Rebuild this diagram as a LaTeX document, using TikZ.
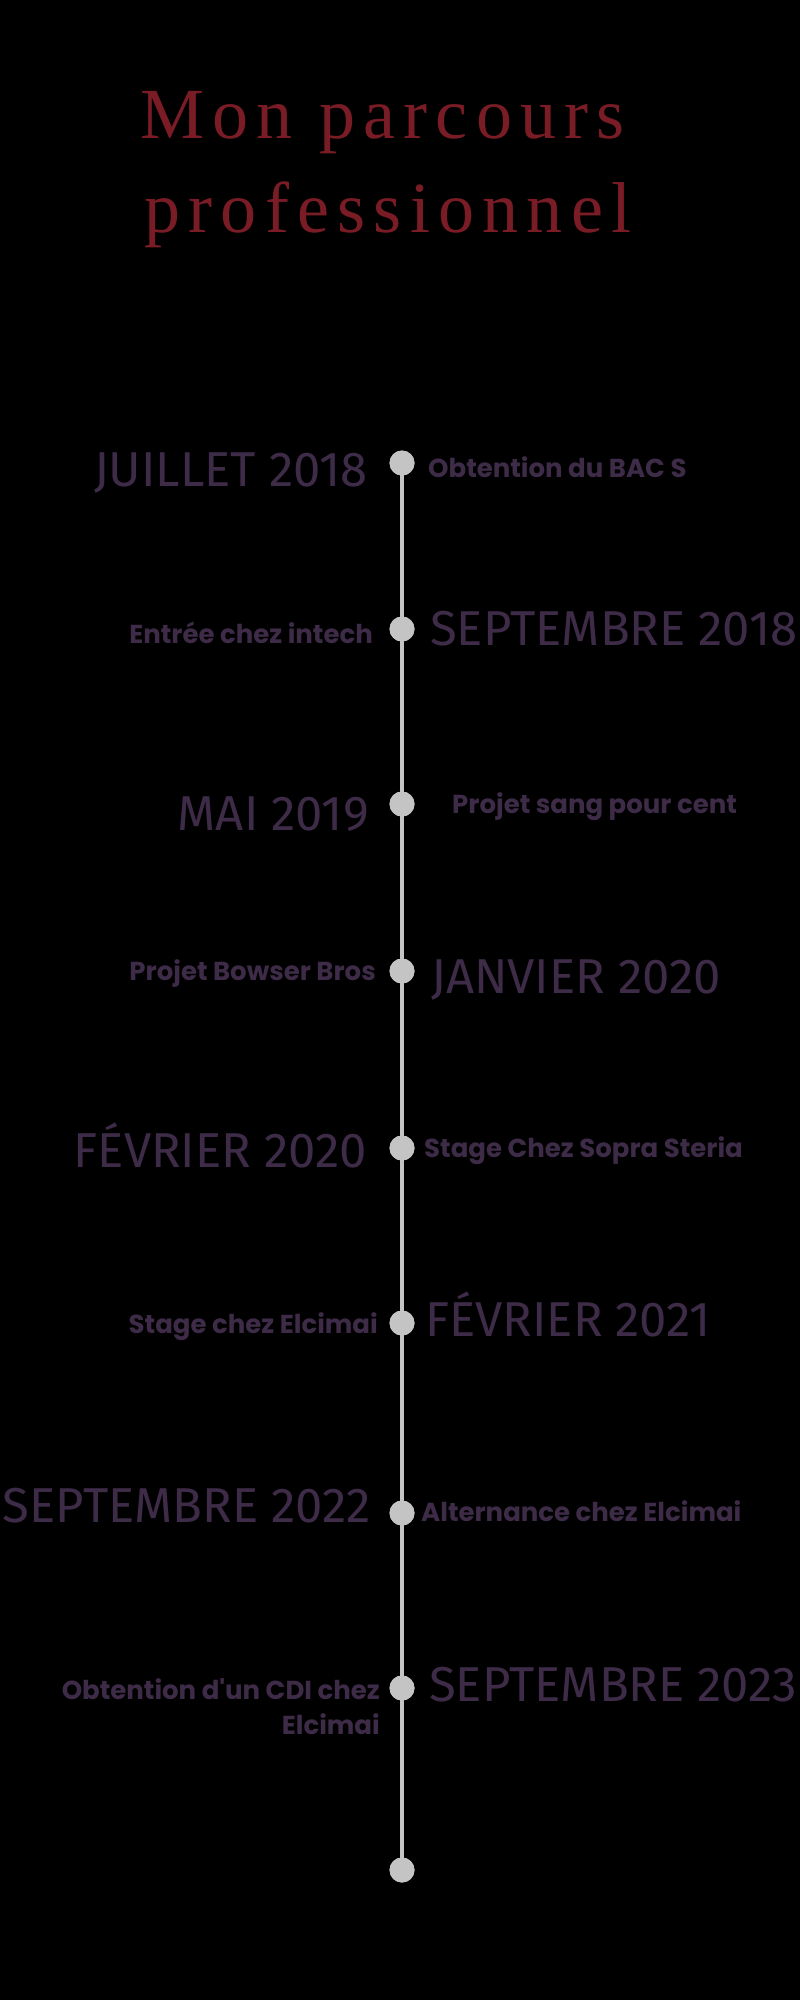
\documentclass[tikz,border=0pt]{standalone}
\usepackage{fontspec}
\usepackage{xcolor}
\newfontfamily\titlefont{Liberation Serif}[LetterSpace=11.5]
\newfontfamily\datefont{Fira Sans}
\newfontfamily\descfont{Poppins}
\definecolor{titlered}{HTML}{7A1C25}
\definecolor{plum}{HTML}{3E2B48}
\definecolor{railgrey}{HTML}{C4C4C4}
\begin{document}
\begin{tikzpicture}[x=1pt,y=-1pt,
    dot/.style={circle,fill=railgrey,minimum size=25pt,inner sep=0pt},
    date/.style={inner sep=0pt,text=plum,font=\datefont\fontsize{49}{53}\selectfont},
    desc/.style={inner sep=0pt,text=plum,font=\descfont\bfseries\fontsize{26}{35}\selectfont},
    heading/.style={inner sep=0pt,text=titlered,anchor=base west,font=\titlefont\fontsize{72}{92}\selectfont}]%
  \fill[black] (0,0) rectangle (800,2000);%
  \useasboundingbox (0,0) rectangle (800,2000);%
  \node[heading] (H1) at (140,138) {Mon parcours};%
  \node[heading] (H2) at (144,232) {professionnel};%
  % points of the rail
  \node[dot] (D1) at (402,463) {};%
  \node[dot] (D2) at (402,629) {};%
  \node[dot] (D3) at (402,804) {};%
  \node[dot] (D4) at (402,971) {};%
  \node[dot] (D5) at (402,1148) {};%
  \node[dot] (D6) at (402,1323) {};%
  \node[dot] (D7) at (402,1513) {};%
  \node[dot] (D8) at (402,1688) {};%
  \node[dot] (D9) at (402,1870) {};%
  \draw[railgrey,line width=4pt] (D1.center) to (D9.center);%
  \foreach \n in {1,...,9} {\node[dot] at (D\n) {};}%
  % dates
  \node[date,anchor=base east] (T1) at (368,486) {JUILLET 2018};%
  \node[date,anchor=base west] (T2) at (430,645) {SEPTEMBRE 2018};%
  \node[date,anchor=base east] (T3) at (369,830) {MAI 2019};%
  \node[date,anchor=base west] (T4) at (431,993) {JANVIER 2020};%
  \node[date,anchor=base east] (T5) at (367,1167) {FÉVRIER 2020};%
  \node[date,anchor=base west] (T6) at (425,1336) {FÉVRIER 2021};%
  \node[date,anchor=base east] (T7) at (371,1522) {SEPTEMBRE 2022};%
  \node[date,anchor=base west] (T8) at (429,1701) {SEPTEMBRE 2023};%
  % events
  \node[desc,anchor=base west] (E1) at (428,477) {Obtention du BAC S};%
  \node[desc,anchor=base east] (E2) at (373,643) {Entrée chez intech};%
  \node[desc,anchor=base west] (E3) at (452,813) {Projet sang pour cent};%
  \node[desc,anchor=base east] (E4) at (376,980) {Projet Bowser Bros};%
  \node[desc,anchor=base west] (E5) at (424,1157) {Stage Chez Sopra Steria};%
  \node[desc,anchor=base east] (E6) at (378,1333) {Stage chez Elcimai};%
  \node[desc,anchor=base west] (E7) at (421,1521) {Alternance chez Elcimai};%
  \node[desc,anchor=base east,align=right] (E8) at (380,1734) {Obtention d'un CDI chez\\Elcimai};%
\end{tikzpicture}
\end{document}
